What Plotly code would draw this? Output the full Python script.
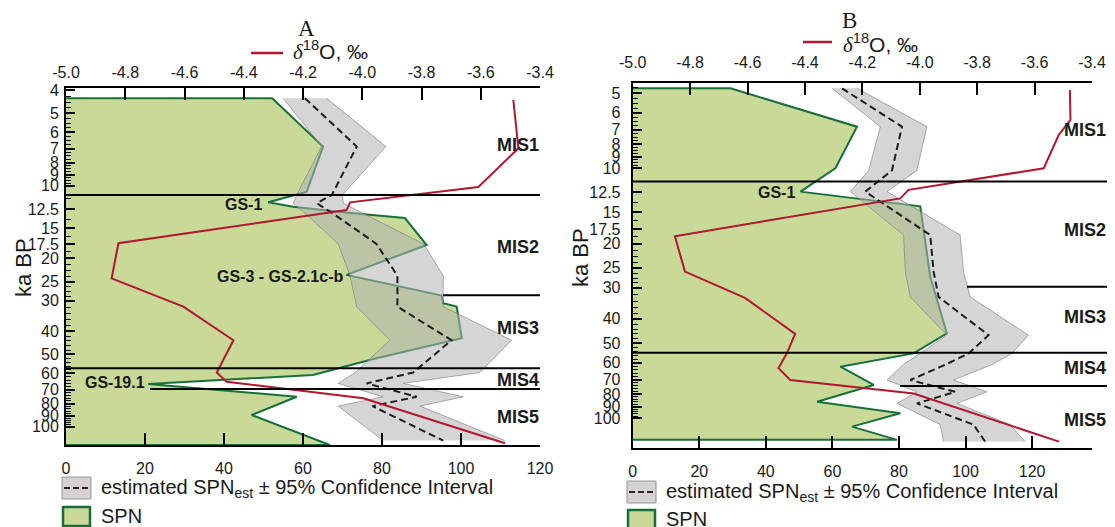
import math
import plotly.graph_objects as go

W, H = 1115, 527
OFF = 8  # page body margin of the html page (px)

# ---------------- data ----------------
# Panel A : observed SPN (ka BP vs SPN)
A_spn_age = [4.33, 6.87, 10.6, 11.7, 12.2, 13.0, 13.6, 17.6, 23.4, 28.5, 30.7, 31.7, 42.9, 51.9, 60.9, 66.4, 75.0, 89.3, 118.9]
A_spn     = [52.2, 65.1, 60.9, 51.2, 57.5, 72.7, 85.8, 91.3, 71.0, 95.1, 95.5, 98.9, 100.2, 78.6, 62.5, 20.8, 58.4, 47.0, 66.8]
# Panel A : estimated SPN with 95% CI
A_est_age = [4.33, 6.87, 10.9, 11.8, 13.2, 17.4, 23.6, 31.7, 43.7, 59.5, 66.0, 75.0, 82.0, 114.0]
A_est     = [60.5, 73.6, 67.3, 63.5, 68.1, 78.6, 83.9, 83.9, 97.6, 87.9, 76.1, 88.8, 77.6, 95.5]
A_lo      = [55.0, 64.7, 58.4, 57.5, 61.0, 68.9, 71.9, 73.6, 82.0, 73.2, 68.9, 80.3, 68.9, 80.3]
A_hi      = [66.0, 81.0, 70.0, 70.2, 76.0, 90.5, 95.5, 95.5, 112.8, 104.8, 85.3, 100.6, 89.6, 111.1]
# Panel A : d18O
A_d18o_age = [4.4, 6.98, 10.1, 11.7, 12.6, 17.3, 24.2, 31.7, 43.7, 59.5, 65.0, 76.1, 117.0]
A_d18o     = [-3.49, -3.473, -3.608, -4.041, -4.053, -4.823, -4.846, -4.604, -4.435, -4.491, -4.458, -3.996, -3.518]

# Panel B : observed SPN
B_spn_age = [4.79, 6.82, 10.0, 12.4, 14.2, 27.2, 45.7, 55.0, 62.2, 73.6, 85.9, 95.5, 108.0, 122.0]
B_spn     = [29.4, 67.4, 60.9, 50.4, 86.4, 89.4, 94.4, 84.4, 62.4, 72.4, 55.4, 80.4, 65.9, 79.4]
# Panel B : estimated SPN with 95% CI
B_est_age = [4.79, 6.82, 10.2, 12.4, 18.5, 25.9, 32.7, 46.5, 55.0, 61.0, 70.3, 78.4, 87.2, 106.0, 124.0]
B_est     = [62.9, 80.9, 77.9, 69.9, 89.4, 90.4, 91.9, 106.9, 101.0, 94.0, 83.4, 96.9, 85.4, 102.4, 105.9]
B_lo      = [59.9, 74.4, 70.9, 65.4, 81.4, 81.9, 83.4, 94.4, 86.4, 81.3, 76.4, 85.4, 79.4, 92.4, 93.4]
B_hi      = [67.4, 88.4, 85.4, 76.4, 98.4, 99.4, 101.4, 118.9, 114.0, 108.0, 96.4, 106.4, 97.4, 113.4, 117.9]
# Panel B : d18O
B_d18o_age = [4.86, 6.41, 7.36, 10.0, 12.2, 13.2, 18.7, 25.9, 33.0, 46.0, 55.0, 63.0, 70.3, 79.6, 124.0]
B_d18o     = [-3.477, -3.475, -3.516, -3.568, -4.039, -4.068, -4.853, -4.818, -4.609, -4.434, -4.463, -4.492, -4.451, -4.021, -3.515]

# MIS boundaries (ka BP)
A_mis_bounds = [10.9, 28.4, 57.1, 69.6]
B_mis_bounds = [11.3, 29.8, 54.7, 74.3]
# MIS labels
mis_labels = ["MIS1", "MIS2", "MIS3", "MIS4", "MIS5"]
A_mis_label_age = [6.76, 17.9, 38.9, 63.9, 91.0]
B_mis_label_age = [7.03, 17.7, 39.4, 63.0, 101.6]
# GS labels (text, SPN position of right end, age)
A_gs = [("GS-1", 50.0, 11.98), ("GS-3 - GS-2.1c-b", 70.6, 23.8), ("GS-19.1", 20.5, 65.5)]
B_gs = [("GS-1", 49.5, 12.5)]

# axis ticks
age_ticks = [4, 5, 6, 7, 8, 9, 10, 12.5, 15, 17.5, 20, 25, 30, 40, 50, 60, 70, 80, 90, 100]
age_ticktext = [str(v) for v in age_ticks]
spn_ticks = [0, 20, 40, 60, 80, 100, 120]
d18o_ticks = [-5.0, -4.8, -4.6, -4.4, -4.2, -4.0, -3.8, -3.6, -3.4]
d18o_ticktext = ["%.1f" % v for v in d18o_ticks]
minor_age = ([4 + 0.25 * i for i in range(25)] + [10 + 1.25 * i for i in range(1, 17)]
             + [30 + 2 * i for i in range(1, 36)])

# ---------------- style ----------------
GREEN_FILL = 'rgb(200,217,152)'
GREEN_LINE = '#17703a'
RED = '#b3162f'
BAND_FILL = 'rgba(178,178,178,0.55)'
BAND_LINE = 'rgba(120,120,120,0.75)'
FONT = 'Liberation Sans, Arial, sans-serif'


def px(x):
    return (x - OFF) / W


def py(y):
    return 1 - (y - OFF) / H


fig = go.Figure()


def add_panel(xa, xt, ya, spn_age, spn, est_age, est, lo, hi, d_age, d):
    fig.add_trace(go.Scatter(x=[0] + spn + [0], y=[spn_age[0]] + spn_age + [spn_age[-1]],
                             xaxis=xa, yaxis=ya, mode='lines', fill='toself',
                             fillcolor=GREEN_FILL, line=dict(color=GREEN_LINE, width=2),
                             hoverinfo='skip', showlegend=False))
    fig.add_trace(go.Scatter(x=lo, y=est_age, xaxis=xa, yaxis=ya, mode='lines',
                             line=dict(color=BAND_LINE, width=0.8), showlegend=False))
    fig.add_trace(go.Scatter(x=hi, y=est_age, xaxis=xa, yaxis=ya, mode='lines',
                             fill='tonextx', fillcolor=BAND_FILL,
                             line=dict(color=BAND_LINE, width=0.8), showlegend=False))
    fig.add_trace(go.Scatter(x=est, y=est_age, xaxis=xa, yaxis=ya, mode='lines',
                             line=dict(color='#1c1c1c', width=2, dash='7px,4px'), showlegend=False))
    fig.add_trace(go.Scatter(x=d, y=d_age, xaxis=xt, yaxis=ya, mode='lines',
                             line=dict(color=RED, width=2), showlegend=False))


add_panel('x', 'x2', 'y', A_spn_age, A_spn, A_est_age, A_est, A_lo, A_hi, A_d18o_age, A_d18o)
add_panel('x3', 'x4', 'y2', B_spn_age, B_spn, B_est_age, B_est, B_lo, B_hi, B_d18o_age, B_d18o)

# panel geometry in (reference) pixels
A_box = dict(l=66, r=540, t=88, b=445)
B_box = dict(l=632.7, r=1092, t=83, b=448)
A_yr = [math.log10(118.9), math.log10(3.925)]
B_yr = [math.log10(131.5), math.log10(4.56)]

tickfont = dict(family=FONT, size=16, color='#1a1a1a')
axcommon = dict(showline=True, linecolor='black', linewidth=2, ticks='inside',
                tickcolor='black', tickwidth=2, showgrid=False, zeroline=False,
                tickfont=tickfont, automargin=False)


def xbottom(box, anchor, rng, standoff):
    return dict(axcommon, domain=[px(box['l']), px(box['r'])], anchor=anchor, range=rng,
                tickmode='array', tickvals=spn_ticks, ticklen=12, ticklabelstandoff=standoff)


def xtop(over, anchor, standoff):
    return dict(axcommon, overlaying=over, anchor=anchor, side='top', range=[-5.0, -3.4],
                tickmode='array', tickvals=d18o_ticks, ticktext=d18o_ticktext, ticklen=12,
                ticklabelstandoff=standoff)


def yax(box, anchor, rng, standoff):
    return dict(axcommon, domain=[py(box['b']), py(box['t'])], anchor=anchor, type='log',
                range=rng, tickmode='array', tickvals=age_ticks, ticktext=age_ticktext,
                ticklen=9, ticklabelstandoff=standoff,
                tickfont=dict(family=FONT, size=16, color='#1a1a1a'),
                minor=dict(tickmode='array', tickvals=minor_age, ticks='inside', ticklen=5,
                           tickwidth=1, tickcolor='black', showgrid=False))


fig.update_layout(
    width=W, height=H, margin=dict(l=0, r=0, t=0, b=0, pad=0), autosize=False,
    paper_bgcolor='white', plot_bgcolor='white', showlegend=False,
    xaxis=xbottom(A_box, 'y', [0, 120], 8),
    xaxis2=xtop('x', 'y', 2),
    yaxis=yax(A_box, 'x', A_yr, 2),
    xaxis3=xbottom(B_box, 'y2', [0, 138], 8),
    xaxis4=xtop('x3', 'y2', 7),
    yaxis2=yax(B_box, 'x3', B_yr, 7),
)

shapes = []
ann = []


def text(t, x, y, size, family=FONT, xanchor='center', yanchor='middle', angle=0, xref='paper', yref='paper'):
    ann.append(dict(text=t, xref=xref, yref=yref, x=x, y=y, xanchor=xanchor, yanchor=yanchor,
                    textangle=angle, showarrow=False,
                    font=dict(family=family, size=size, color='#1a1a1a')))


# MIS boundary lines
A_line_x = [(66, 540), (443, 540), (66, 540), (150, 540)]
B_line_x = [(632.7, 1107), (967, 1107), (632.7, 1107), (900, 1107)]
for age, (x0, x1) in zip(A_mis_bounds, A_line_x):
    shapes.append(dict(type='line', xref='paper', yref='y', x0=px(x0), x1=px(x1), y0=age, y1=age,
                       line=dict(color='black', width=2)))
for age, (x0, x1) in zip(B_mis_bounds, B_line_x):
    shapes.append(dict(type='line', xref='paper', yref='y2', x0=px(x0), x1=px(x1), y0=age, y1=age,
                       line=dict(color='black', width=2)))

for lab, age in zip(mis_labels, A_mis_label_age):
    text('<b>%s</b>' % lab, px(541), math.log10(age), 18, xanchor='right', yref='y')
for lab, age in zip(mis_labels, B_mis_label_age):
    text('<b>%s</b>' % lab, px(1108), math.log10(age), 18, xanchor='right', yref='y2')

for lab, xv, age in A_gs:
    text('<b>%s</b>' % lab, xv, math.log10(age), 16, xanchor='right', xref='x', yref='y')
for lab, xv, age in B_gs:
    text('<b>%s</b>' % lab, xv, math.log10(age), 16, xanchor='right', xref='x3', yref='y2')

# axis titles
text('ka BP', px(23), py(268), 22, angle=-90)
text('ka BP', px(580), py(258), 22, angle=-90)

# panel letters
text('A', px(306), py(29), 23, family='Liberation Serif, DejaVu Serif, serif')
text('B', px(849), py(20), 23, family='Liberation Serif, DejaVu Serif, serif')

# d18O legend
d18o_text = ('<span style="font-family:Liberation Serif"><i>δ</i></span>'
             '<sup>18</sup>O, ‰')
for (lx0, lx1, ly), (tx, ty) in [((251, 283, 53), (291, 51)), ((803, 832, 42), (841, 43))]:
    shapes.append(dict(type='line', xref='paper', yref='paper', x0=px(lx0), x1=px(lx1),
                       y0=py(ly), y1=py(ly), line=dict(color=RED, width=2.5)))
    text(d18o_text, px(tx), py(ty), 21, xanchor='left')

# bottom legends
for bx, r1, r2 in [(62, 488, 516), (627, 492, 519)]:
    shapes.append(dict(type='rect', xref='paper', yref='paper', x0=px(bx), x1=px(bx + 29),
                       y0=py(r1 + 11), y1=py(r1 - 11), fillcolor='rgb(212,210,210)',
                       line=dict(color='rgb(150,150,150)', width=1)))
    shapes.append(dict(type='line', xref='paper', yref='paper', x0=px(bx + 2), x1=px(bx + 27),
                       y0=py(r1), y1=py(r1), line=dict(color='#3a1d1d', width=2, dash='6px,3px')))
    text('estimated SPN<sub>est</sub> ± 95% Confidence Interval', px(bx + 37), py(r1), 20,
         xanchor='left')
    shapes.append(dict(type='rect', xref='paper', yref='paper', x0=px(bx + 1), x1=px(bx + 28),
                       y0=py(r2 + 10), y1=py(r2 - 9), fillcolor=GREEN_FILL,
                       line=dict(color=GREEN_LINE, width=2.5)))
    text('SPN', px(bx + 37), py(r2), 20, xanchor='left')

fig.update_layout(shapes=shapes, annotations=ann)
fig.write_html('out.html')
